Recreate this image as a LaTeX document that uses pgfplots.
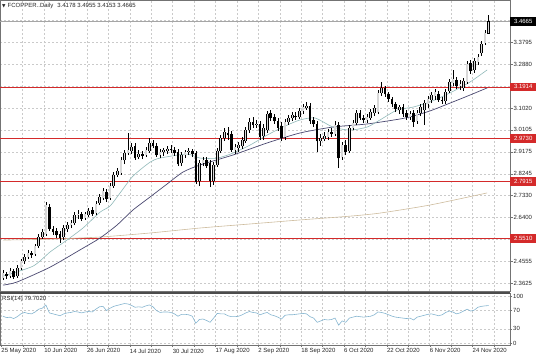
\documentclass[border=0pt]{standalone}
\usepackage{pgfplots}
\pgfplotsset{compat=1.18}
\usepackage{pgfplotstable}
\usepackage{fontspec}
\setmainfont{Liberation Sans}
\newfontfamily\djv{DejaVu Sans}
\definecolor{bullfill}{HTML}{D8D8D8}
\definecolor{lightma}{HTML}{8FB8B8}
\definecolor{darkma}{HTML}{4A4870}
\definecolor{tanma}{HTML}{CDBB9C}
\definecolor{srred}{HTML}{D42A2A}
\definecolor{rsiblue}{HTML}{86B5D0}
\definecolor{gridc}{HTML}{CACACA}

\pgfplotstableread{
i o h l c
0 2.385 2.419 2.376 2.406
1 2.402 2.410 2.381 2.393
2 2.393 2.427 2.385 2.414
3 2.414 2.423 2.381 2.389
4 2.393 2.440 2.385 2.427
5 2.427 2.465 2.419 2.457
6 2.457 2.486 2.444 2.473
7 2.473 2.503 2.465 2.490
8 2.490 2.499 2.469 2.482
9 2.486 2.528 2.478 2.520
10 2.520 2.571 2.511 2.558
11 2.558 2.592 2.549 2.579
12 2.571 2.706 2.562 2.693
13 2.684 2.697 2.583 2.592
14 2.592 2.604 2.566 2.579
15 2.583 2.596 2.554 2.566
16 2.571 2.583 2.533 2.554
17 2.558 2.608 2.545 2.596
18 2.592 2.621 2.579 2.608
19 2.608 2.630 2.596 2.617
20 2.617 2.663 2.608 2.651
21 2.651 2.672 2.634 2.655
22 2.655 2.663 2.625 2.634
23 2.638 2.663 2.630 2.655
24 2.651 2.680 2.642 2.668
25 2.672 2.684 2.646 2.655
26 2.659 2.710 2.651 2.697
27 2.701 2.739 2.693 2.727
28 2.722 2.765 2.714 2.752
29 2.748 2.760 2.706 2.718
30 2.722 2.786 2.714 2.773
31 2.773 2.832 2.765 2.820
32 2.820 2.849 2.811 2.836
33 2.828 2.895 2.820 2.883
34 2.883 2.925 2.866 2.912
35 2.912 2.997 2.904 2.925
36 2.921 2.955 2.908 2.938
37 2.942 2.955 2.883 2.891
38 2.895 2.925 2.887 2.908
39 2.908 2.921 2.887 2.900
40 2.904 2.938 2.895 2.925
41 2.921 2.976 2.912 2.955
42 2.955 2.967 2.933 2.942
43 2.942 2.955 2.895 2.904
44 2.904 2.929 2.891 2.917
45 2.917 2.933 2.900 2.925
46 2.921 2.942 2.908 2.929
47 2.929 2.946 2.912 2.925
48 2.925 2.938 2.900 2.912
49 2.917 2.929 2.857 2.866
50 2.870 2.917 2.857 2.904
51 2.904 2.925 2.891 2.917
52 2.917 2.933 2.904 2.921
53 2.921 2.929 2.895 2.908
54 2.912 2.921 2.781 2.790
55 2.794 2.883 2.773 2.870
56 2.870 2.895 2.857 2.883
57 2.883 2.895 2.849 2.857
58 2.870 2.883 2.769 2.794
59 2.794 2.874 2.777 2.862
60 2.862 2.933 2.853 2.921
61 2.921 2.988 2.912 2.976
62 2.976 3.018 2.963 3.001
63 2.997 3.022 2.967 2.988
64 2.993 3.005 2.917 2.925
65 2.925 2.950 2.908 2.938
66 2.933 2.959 2.917 2.946
67 2.942 2.980 2.929 2.967
68 2.963 3.022 2.955 3.009
69 3.009 3.060 2.997 3.043
70 3.043 3.064 3.018 3.031
71 3.031 3.052 3.018 3.035
72 3.035 3.047 2.967 2.980
73 2.984 3.035 2.967 3.018
74 3.009 3.090 2.997 3.077
75 3.081 3.094 3.047 3.060
76 3.064 3.077 3.035 3.047
77 3.047 3.060 3.005 3.018
78 3.026 3.043 2.963 2.976
79 2.980 3.056 2.967 3.043
80 3.043 3.073 3.031 3.060
81 3.060 3.085 3.047 3.073
82 3.068 3.085 3.052 3.064
83 3.064 3.102 3.056 3.090
84 3.090 3.119 3.077 3.106
85 3.102 3.128 3.094 3.111
86 3.111 3.123 3.035 3.047
87 3.052 3.064 3.022 3.035
88 3.035 3.047 2.917 2.963
89 2.963 2.993 2.942 2.976
90 2.971 3.001 2.963 2.984
91 2.980 3.014 2.967 3.001
92 3.001 3.018 2.980 2.993
93 2.993 3.047 2.984 3.031
94 3.031 3.043 2.849 2.891
95 2.895 2.959 2.883 2.946
96 2.946 2.967 2.904 2.917
97 2.921 3.031 2.912 3.018
98 3.018 3.052 3.009 3.039
99 3.039 3.094 3.031 3.081
100 3.081 3.094 3.052 3.060
101 3.060 3.073 3.039 3.052
102 3.052 3.077 3.039 3.064
103 3.060 3.098 3.052 3.085
104 3.081 3.115 3.068 3.102
105 3.085 3.178 3.077 3.166
106 3.166 3.212 3.153 3.187
107 3.187 3.195 3.149 3.161
108 3.161 3.170 3.128 3.140
109 3.140 3.149 3.106 3.119
110 3.119 3.128 3.085 3.098
111 3.094 3.115 3.077 3.106
112 3.106 3.119 3.064 3.077
113 3.081 3.094 3.052 3.064
114 3.064 3.090 3.052 3.077
115 3.081 3.094 3.022 3.043
116 3.047 3.094 3.035 3.081
117 3.081 3.119 3.068 3.106
118 3.094 3.136 3.031 3.123
119 3.119 3.153 3.102 3.140
120 3.136 3.170 3.123 3.157
121 3.153 3.182 3.136 3.170
122 3.161 3.174 3.128 3.136
123 3.136 3.149 3.119 3.132
124 3.132 3.182 3.119 3.170
125 3.174 3.225 3.166 3.212
126 3.208 3.263 3.195 3.225
127 3.220 3.233 3.182 3.195
128 3.195 3.220 3.178 3.204
129 3.187 3.229 3.174 3.216
130 3.212 3.301 3.204 3.288
131 3.292 3.305 3.246 3.258
132 3.263 3.313 3.250 3.301
133 3.296 3.330 3.284 3.317
134 3.334 3.385 3.322 3.372
135 3.377 3.431 3.368 3.419
136 3.4178 3.4955 3.4153 3.4665
}\candles

\pgfplotstableread{
i r
0 57
1 54
2 55
3 52
4 56
5 62
6 65
7 63
8 62
9 66
10 72
11 74
12 81
13 64
14 62
15 60
16 58
17 62
18 64
19 65
20 67
21 66
22 64
23 66
24 67
25 66
26 72
27 77
28 78
29 69
30 74
31 78
32 80
33 82
34 84
35 83
36 80
37 76
38 77
39 76
40 79
41 81
42 77
43 69
44 65
45 66
46 66
47 65
48 62
49 57
50 61
51 61
52 60
53 57
54 42
55 50
56 51
57 48
58 44
59 53
60 63
61 62
62 62
63 58
64 56
65 56
66 57
67 60
68 64
69 67
70 65
71 64
72 60
73 63
74 65
75 60
76 58
77 55
78 51
79 59
80 60
81 60
82 61
83 62
84 63
85 62
86 56
87 53
88 44
89 47
90 50
91 49
92 50
93 53
94 38
95 47
96 44
97 53
98 55
99 57
100 56
101 55
102 56
103 57
104 60
105 66
106 65
107 63
108 60
109 57
110 55
111 54
112 53
113 52
114 53
115 49
116 55
117 57
118 59
119 61
120 62
121 60
122 58
123 60
124 65
125 68
126 66
127 62
128 64
129 68
130 72
131 68
132 70
133 76
134 78
135 79
136 79.7
}\rsi

\newcommand{\tf}{\fontsize{6}{7}\selectfont}

\begin{document}
\begin{tikzpicture}
\path[use as bounding box] (0,0) rectangle (536pt,357pt);
% ---------------- main price panel ----------------
\begin{axis}[
  at={(0pt,66pt)}, anchor=south west,
  width=510pt, height=291pt, scale only axis,
  xmin=-0.84, xmax=142, ymin=2.3302, ymax=3.558,
  clip=false,
  axis line style={black!55, line width=0.5pt},
  xtick={5.5,11.5,...,137.5}, xticklabels={}, xtick style={draw=none},
  xmajorgrids, ymajorgrids,
  major grid style={gridc, dash pattern=on 2pt off 2pt, line width=0.4pt},
  ytick={2.3625,2.4555,2.5485,2.6400,2.7330,2.8245,2.9175,3.0105,3.1020,3.1950,3.2880,3.3795,3.4710},
  yticklabels={2.3625,2.4555,{},2.6400,2.7330,2.8245,2.9175,3.0105,3.1020,{},3.2880,3.3795,{}},
  ytick pos=right, yticklabel pos=right,
  tick align=outside, major tick length=2.5pt,
  ytick style={black!55},
  yticklabel style={font=\tf, text=black!85, anchor=west, inner sep=1pt},
]
% support / resistance lines
\addplot[srred, line width=0.6pt, forget plot] coordinates {(-0.84,3.1914) (142,3.1914)};
\addplot[srred, line width=0.6pt, forget plot] coordinates {(-0.84,2.9730) (142,2.9730)};
\addplot[srred, line width=0.6pt, forget plot] coordinates {(-0.84,2.7915) (142,2.7915)};
\addplot[srred, line width=0.6pt, forget plot] coordinates {(-0.84,2.5510) (142,2.5510)};
% bid line
\addplot[black!35, line width=0.5pt, forget plot] coordinates {(-0.84,3.4665) (142,3.4665)};
% moving averages
\addplot[tanma, line width=0.6pt, smooth, tension=0.4, forget plot] coordinates {
(0,2.545) (13.2,2.549) (27.2,2.558) (41.2,2.575) (55.2,2.596) (69.2,2.613) (83.2,2.630) (97.2,2.646) (105.6,2.659) (119.6,2.693) (135.6,2.744)};
\addplot[darkma, line width=0.7pt, smooth, tension=0.4, forget plot] coordinates {
(0,2.355) (3.9,2.368) (13.2,2.431) (22.4,2.511) (27.2,2.554) (31.9,2.608) (36.4,2.672) (41.2,2.727) (45.9,2.781) (50.4,2.832) (55.2,2.862) (64.4,2.904) (74,2.955) (83.2,2.997) (92.4,3.022) (102,3.035) (111.2,3.056) (114.8,3.068) (119.6,3.090) (125.2,3.123) (130.8,3.157) (135.6,3.187)};
\addplot[lightma, line width=0.6pt, smooth, tension=0.4, forget plot] coordinates {
(0,2.393) (8.4,2.435) (13.2,2.495) (17.9,2.545) (22.4,2.596) (27.2,2.663) (30,2.689) (32.8,2.744) (36.4,2.815) (41.2,2.874) (44,2.891) (51.5,2.908) (55.2,2.891) (60,2.891) (64.4,2.912) (69.2,2.946) (74,2.988) (78.4,3.022) (83.2,3.052) (87.4,3.060) (92.4,3.022) (97.2,3.009) (102,3.022) (105.6,3.052) (110.4,3.094) (114.8,3.106) (119.6,3.128) (125.2,3.166) (130.8,3.212) (135.6,3.263)};
% candle wicks
\addplot[draw=none, mark=none, forget plot,
  error bars/.cd, y dir=plus, y explicit, error mark=none,
  error bar style={draw=black, solid, line width=0.6pt}]
  table[x=i, y=l, y error expr=\thisrow{h}-\thisrow{l}] {\candles};
% candle bodies (outline / bear fill)
\addplot[draw=none, mark=none, forget plot,
  error bars/.cd, y dir=plus, y explicit, error mark=none,
  error bar style={draw=black, solid, line width=2.6pt}]
  table[x=i, y expr={min(\thisrow{o},\thisrow{c})-0.0012}, y error expr={abs(\thisrow{c}-\thisrow{o})+0.0024}] {\candles};
% bull body fill
\addplot[draw=none, mark=none, forget plot,
  error bars/.cd, y dir=plus, y explicit, error mark=none,
  error bar style={draw=bullfill, solid, line width=1.4pt}]
  table[x=i, y expr={\thisrow{o}+0.0013}, y error expr={max(\thisrow{c}-\thisrow{o}-0.0026,0)}] {\candles};
% price boxes
\node[fill=srred, text=white, anchor=west, minimum width=26pt, minimum height=8.5pt, inner sep=0pt, font=\tf] at (axis cs:142,3.1914) {3.1914};
\node[fill=srred, text=white, anchor=west, minimum width=26pt, minimum height=8.5pt, inner sep=0pt, font=\tf] at (axis cs:142,2.9730) {2.9730};
\node[fill=srred, text=white, anchor=west, minimum width=26pt, minimum height=8.5pt, inner sep=0pt, font=\tf] at (axis cs:142,2.7915) {2.7915};
\node[fill=srred, text=white, anchor=west, minimum width=26pt, minimum height=8.5pt, inner sep=0pt, font=\tf] at (axis cs:142,2.5510) {2.5510};
\node[fill=black, text=white, anchor=west, minimum width=26pt, minimum height=8.5pt, inner sep=0pt, font=\tf] at (axis cs:142,3.4665) {3.4665};
% title
\node[anchor=north west, inner sep=0pt, xshift=2pt, yshift=-3pt, font=\tf, text=black!85] at (rel axis cs:0,1)
  {{\djv\fontsize{4.5}{5}\selectfont ▼}\hspace{2pt}FCOPPER..Daily\hspace{4pt}3.4178 3.4955 3.4153 3.4665};
\end{axis}
% ---------------- RSI panel ----------------
\begin{axis}[
  at={(0pt,12pt)}, anchor=south west,
  width=510pt, height=52pt, scale only axis,
  xmin=-0.84, xmax=142, ymin=-4.3, ymax=106.4,
  clip=false,
  axis line style={black!55, line width=0.5pt},
  xtick={-0.5,5.5,...,137.5},
  xticklabels={25 May 2020,,10 Jun 2020,,26 Jun 2020,,14 Jul 2020,,30 Jul 2020,,17 Aug 2020,,2 Sep 2020,,18 Sep 2020,,6 Oct 2020,,22 Oct 2020,,6 Nov 2020,,24 Nov 2020,},
  xtick pos=bottom,
  xticklabel style={font=\tf, text=black!85, anchor=north west, inner sep=0pt, yshift=-1.5pt},
  xmajorgrids, ymajorgrids,
  major grid style={gridc, dash pattern=on 2pt off 2pt, line width=0.4pt},
  ytick={0,30,70,100}, yticklabels={0,30,70,100},
  ytick pos=right, yticklabel pos=right,
  tick align=outside, major tick length=2pt,
  tick style={black!55},
  yticklabel style={font=\tf, text=black!85, anchor=west, inner sep=1pt},
]
\addplot[rsiblue, line width=0.6pt, forget plot] table[x=i, y=r] {\rsi};
\draw[black!70, line width=1.6pt] (rel axis cs:0,1) -- (rel axis cs:1,1);
\node[anchor=north west, inner sep=0pt, xshift=2pt, yshift=-3pt, font=\tf, text=black!85] at (rel axis cs:0,1) {RSI(14) 79.7020};
\end{axis}
\end{tikzpicture}
\end{document}
